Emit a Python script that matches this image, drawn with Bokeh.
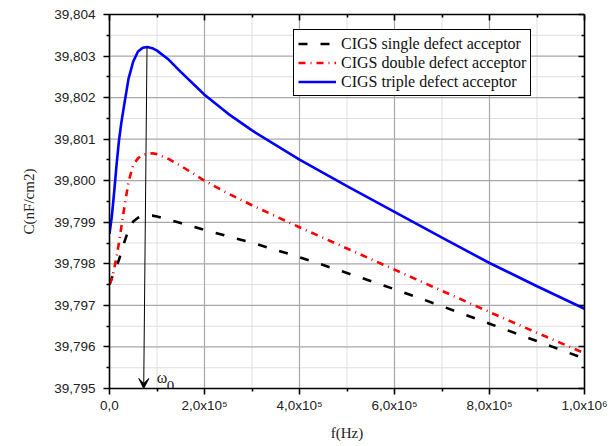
from bokeh.plotting import figure
from bokeh.models import (FixedTicker, LinearAxis, Range1d, Legend, LegendItem,
                          Arrow, VeeHead)
from bokeh.core.properties import value
from bokeh.embed import file_html
from bokeh.resources import INLINE

# ---------------- data ----------------
freq = [0, 5e3, 1e4, 1.5e4, 2e4, 2.5e4, 3e4, 4e4, 5e4, 6e4, 7e4, 8e4, 9e4, 1e5,
        1.25e5, 1.5e5, 2e5, 2.5e5, 3e5, 4e5, 5e5, 6e5, 7e5, 8e5, 9e5, 1e6]

single = [39.79750, 39.79766, 39.79780, 39.79795, 39.79810, 39.79829, 39.79848,
          39.79882, 39.79902, 39.79911, 39.79915, 39.79916, 39.79916, 39.79914,
          39.79906, 39.79898, 39.79882, 39.79866, 39.79851, 39.79816, 39.79778,
          39.79739, 39.79698, 39.79656, 39.79614, 39.79572]

double = [39.79750, 39.79765, 39.79788, 39.79818, 39.79851, 39.79889, 39.79927,
          39.79997, 39.80038, 39.80054, 39.80062, 39.80065, 39.80066, 39.80064,
          39.80052, 39.80036, 39.80000, 39.79969, 39.79941, 39.79888, 39.79837,
          39.79786, 39.79735, 39.79684, 39.79634, 39.79585]

triple = [39.79872, 39.79915, 39.79975, 39.80040, 39.80097, 39.80140, 39.80176,
          39.80245, 39.80287, 39.80311, 39.80320, 39.80322, 39.80319, 39.80313,
          39.80291, 39.80262, 39.80207, 39.80161, 39.80121, 39.80051, 39.79987,
          39.79925, 39.79863, 39.79802, 39.79746, 39.79692]

series_names = ["CIGS single defect acceptor", "CIGS double defect acceptor",
                "CIGS triple defect acceptor"]

x_ticks = [0, 200000, 400000, 600000, 800000, 1000000]
x_minor = [100000, 300000, 500000, 700000, 900000]
x_labels = ["0,0", "2,0x10\u2075", "4,0x10\u2075", "6,0x10\u2075", "8,0x10\u2075",
            "1,0x10\u2076"]

y_ticks = [39.795, 39.796, 39.797, 39.798, 39.799, 39.800, 39.801, 39.802, 39.803, 39.804]
y_minor = [39.7955, 39.7965, 39.7975, 39.7985, 39.7995, 39.8005, 39.8015, 39.8025, 39.8035]
y_labels = ["39,795", "39,796", "39,797", "39,798", "39,799", "39,800", "39,801",
            "39,802", "39,803", "39,804"]

omega_top_f = 79000
omega_bottom_f = 72000
omega_peak = 39.80322

x_lo, x_hi = x_ticks[0], x_ticks[-1]
y_lo, y_hi = y_ticks[0], y_ticks[-1]
x_mid, y_mid = (x_lo + x_hi) / 2, (y_lo + y_hi) / 2

# ---------------- figure ----------------
p = figure(width=612, height=444, output_backend="svg", toolbar_location=None,
           x_range=Range1d(x_lo, x_hi), y_range=Range1d(y_lo, y_hi),
           min_border_left=109, min_border_right=28, min_border_top=14,
           min_border_bottom=56)
p.outline_line_color = None
p.background_fill_color = "white"
p.border_fill_color = "white"
p.grid.visible = False

xt = FixedTicker(ticks=x_ticks, minor_ticks=x_minor)
yt = FixedTicker(ticks=y_ticks, minor_ticks=y_minor)

p.xaxis.ticker = xt
p.yaxis.ticker = yt
p.xaxis.major_label_overrides = {t: l for t, l in zip(x_ticks, x_labels)}
p.yaxis.major_label_overrides = {t: l for t, l in zip(y_ticks, y_labels)}

# grid lines drawn as thin filled rects placed at the tick values
p.rect(x=x_minor, y=[y_mid] * len(x_minor), width=1, height=y_hi - y_lo,
       width_units="screen", fill_color="#e0e0e0", line_color=None)
p.rect(x=[x_mid] * len(y_minor), y=y_minor, width=x_hi - x_lo, height=1,
       height_units="screen", fill_color="#e0e0e0", line_color=None)
p.rect(x=x_ticks[1:-1], y=[y_mid] * (len(x_ticks) - 2), width=1.2, height=y_hi - y_lo,
       width_units="screen", fill_color="#a8a8a8", line_color=None)
p.rect(x=[x_mid] * (len(y_ticks) - 2), y=y_ticks[1:-1], width=x_hi - x_lo, height=1.2,
       height_units="screen", fill_color="#a8a8a8", line_color=None)

for ax in (p.xaxis[0], p.yaxis[0]):
    ax.axis_line_color = "black"
    ax.axis_line_width = 1.6
    ax.major_tick_line_color = "black"
    ax.minor_tick_line_color = "black"
    ax.major_tick_line_width = 1.6
    ax.minor_tick_line_width = 1.6
    ax.major_tick_out = 6
    ax.major_tick_in = 0
    ax.minor_tick_out = 3
    ax.minor_tick_in = 0
    ax.major_label_text_font = "Liberation Sans"
    ax.major_label_text_font_size = "13.5px"
    ax.major_label_text_color = "#222222"
    ax.axis_label_text_font = "Liberation Serif"
    ax.axis_label_text_font_size = "15px"
    ax.axis_label_text_font_style = "normal"
    ax.axis_label_text_color = "#222222"

p.xaxis.axis_label = "f(Hz)"
p.yaxis.axis_label = "C(nF/cm2)"
p.xaxis.major_label_standoff = 3
p.yaxis.major_label_standoff = 8
p.xaxis.axis_label_standoff = 9
p.yaxis.axis_label_standoff = 14

# top & right axes with inward ticks
for loc, tk in (("above", xt), ("right", yt)):
    ax = LinearAxis(ticker=tk)
    ax.axis_line_color = "black"
    ax.axis_line_width = 1.6
    ax.major_tick_line_color = "black"
    ax.minor_tick_line_color = "black"
    ax.major_tick_line_width = 1.6
    ax.minor_tick_line_width = 1.6
    ax.major_tick_in = 6
    ax.major_tick_out = 0
    ax.minor_tick_in = 3
    ax.minor_tick_out = 0
    ax.major_label_text_font_size = "1px"
    ax.major_label_text_color = None
    ax.major_label_standoff = 0
    p.add_layout(ax, loc)

# lines
r1 = p.line(freq, single, line_color="black", line_width=2.6, line_dash="9 13")
r2 = p.line(freq, double, line_color="red", line_width=2.6, line_dash="7 5 1 5")
r3 = p.line(freq, triple, line_color="blue", line_width=2.6)

# omega_0 arrow and label
arrow = Arrow(end=VeeHead(size=10, line_color="black", fill_color="black", line_width=1),
              x_start=omega_top_f, y_start=omega_peak,
              x_end=omega_bottom_f, y_end=y_lo,
              line_color="black", line_width=1)
p.add_layout(arrow)
p.text(x=[omega_bottom_f], y=[y_lo], text=["\u03c9"], x_offset=13, y_offset=-11,
       text_font=value("Liberation Serif"), text_font_size="16px",
       text_baseline="alphabetic", text_align="left", text_color="#222222")
p.text(x=[omega_bottom_f], y=[y_lo], text=["0"], x_offset=23, y_offset=-3,
       text_font=value("Liberation Serif"), text_font_size="15px",
       text_baseline="alphabetic", text_align="left", text_color="#222222")

legend = Legend(items=[LegendItem(label=series_names[0], renderers=[r1]),
                       LegendItem(label=series_names[1], renderers=[r2]),
                       LegendItem(label=series_names[2], renderers=[r3])],
                location=(184, 292))
legend.label_text_font = "Liberation Serif"
legend.label_text_font_size = "16px"
legend.label_text_color = "#111111"
legend.border_line_color = "black"
legend.border_line_width = 1
legend.border_line_alpha = 1
legend.background_fill_color = "white"
legend.background_fill_alpha = 1
legend.padding = 4
legend.spacing = 0
legend.margin = 0
legend.glyph_width = 38
legend.glyph_height = 19
legend.label_height = 19
legend.label_standoff = 5
p.add_layout(legend, "center")

open("out.html", "w").write(file_html(p, INLINE))
